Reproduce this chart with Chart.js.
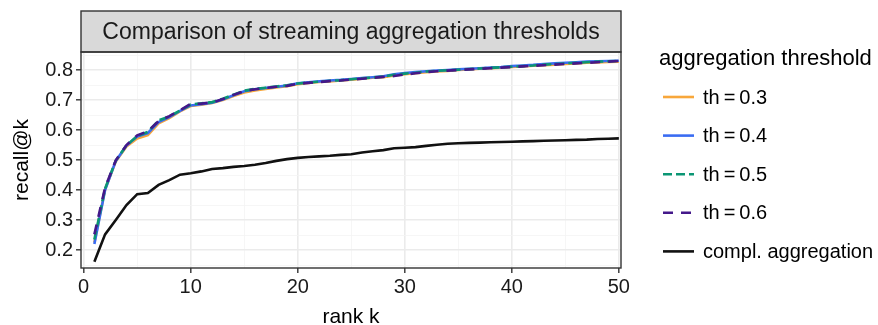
<!DOCTYPE html>
<html>
<head>
<meta charset="utf-8">
<script src="https://cdn.jsdelivr.net/npm/chart.js@4.4.1/dist/chart.umd.min.js"></script>
<style>
  html, body { margin: 0; padding: 0; background: #fff; }
  #wrap { width: 878px; height: 325px; position: relative; }
</style>
</head>
<body>
<div id="wrap"><canvas id="chart" width="878" height="325"></canvas></div>
<script>
// ---------------------------- data ----------------------------
const chartTitle = 'Comparison of streaming aggregation thresholds';
const legendTitle = 'aggregation threshold';
const ranks = Array.from({ length: 50 }, (_, i) => i + 1);

const th03 = [0.225, 0.402, 0.495, 0.545, 0.572, 0.583, 0.622, 0.640, 0.662, 0.680, 0.684, 0.690, 0.700, 0.713, 0.725, 0.732, 0.737, 0.742,
  0.746, 0.753, 0.757, 0.760, 0.762, 0.765, 0.768, 0.771, 0.774, 0.776, 0.782, 0.786, 0.789, 0.793, 0.795, 0.797, 0.800, 0.802, 0.804, 0.806,
  0.808, 0.810, 0.812, 0.814, 0.816, 0.818, 0.820, 0.822, 0.824, 0.825, 0.827, 0.828];
const th04 = [0.220, 0.400, 0.497, 0.548, 0.578, 0.590, 0.626, 0.643, 0.664, 0.682, 0.686, 0.691, 0.702, 0.716, 0.729, 0.736, 0.740, 0.744,
  0.748, 0.756, 0.759, 0.762, 0.765, 0.767, 0.770, 0.773, 0.776, 0.779, 0.786, 0.790, 0.793, 0.796, 0.798, 0.800, 0.802, 0.804, 0.806, 0.808,
  0.810, 0.813, 0.815, 0.817, 0.820, 0.822, 0.824, 0.826, 0.828, 0.829, 0.830, 0.831];
const th05 = [0.235, 0.405, 0.498, 0.549, 0.580, 0.594, 0.632, 0.645, 0.665, 0.685, 0.689, 0.693, 0.704, 0.718, 0.731, 0.737, 0.741, 0.745,
  0.749, 0.755, 0.758, 0.761, 0.764, 0.766, 0.769, 0.772, 0.775, 0.778, 0.784, 0.788, 0.791, 0.795, 0.797, 0.799, 0.801, 0.803, 0.805, 0.807,
  0.809, 0.811, 0.813, 0.815, 0.818, 0.820, 0.822, 0.824, 0.826, 0.828, 0.829, 0.830];
const th06 = [0.252, 0.408, 0.499, 0.550, 0.582, 0.596, 0.630, 0.646, 0.666, 0.687, 0.688, 0.692, 0.703, 0.717, 0.730, 0.736, 0.740, 0.744,
  0.747, 0.754, 0.757, 0.760, 0.763, 0.765, 0.768, 0.771, 0.774, 0.777, 0.780, 0.785, 0.789, 0.793, 0.796, 0.798, 0.800, 0.802, 0.804, 0.806,
  0.808, 0.810, 0.812, 0.814, 0.816, 0.818, 0.820, 0.822, 0.824, 0.826, 0.828, 0.830];
const complAgg = [0.161, 0.252, 0.300, 0.350, 0.386, 0.390, 0.417, 0.433, 0.451, 0.456, 0.462, 0.470, 0.473, 0.477, 0.480, 0.484, 0.490, 0.497,
  0.503, 0.507, 0.510, 0.512, 0.514, 0.517, 0.519, 0.525, 0.529, 0.533, 0.539, 0.541, 0.543, 0.547, 0.551, 0.554, 0.556, 0.557, 0.558, 0.559,
  0.560, 0.561, 0.562, 0.563, 0.564, 0.565, 0.566, 0.567, 0.568, 0.570, 0.571, 0.572];

const xTicks = [0, 5, 10, 15, 20, 25, 30, 35, 40, 45, 50];
const xLabels = [0, 10, 20, 30, 40, 50];
const yTicks = [0.15, 0.2, 0.25, 0.3, 0.35, 0.4, 0.45, 0.5, 0.55, 0.6, 0.65, 0.7, 0.75, 0.8, 0.85];
const yLabels = [0.2, 0.3, 0.4, 0.5, 0.6, 0.7, 0.8];

// ---------------------------- helpers ----------------------------
const FONT = '"Liberation Sans", Arial, Helvetica, sans-serif';
const isLabel = (list, v) => list.some(l => Math.abs(l - v) < 1e-6);
const toPoints = arr => arr.map((y, i) => ({ x: ranks[i], y: y }));

function makeSet(label, values, color, dash, order) {
    return {
        label: label,
        data: toPoints(values),
        borderColor: color,
        borderWidth: 2.6,
        borderDash: dash,
        pointRadius: 0,
        tension: 0,
        fill: false,
        order: order
    };
}

// strip title, panel border and ggplot-like legend
const decorations = {
    id: 'decorations',
    afterDraw(chart) {
        const ctx = chart.ctx;
        const a = chart.chartArea;
        ctx.save();

        // strip
        ctx.fillStyle = '#d9d9d9';
        ctx.fillRect(a.left, 11, a.right - a.left, a.top - 11);
        ctx.strokeStyle = '#333';
        ctx.lineWidth = 1.4;
        ctx.strokeRect(a.left, 11, a.right - a.left, a.top - 11);
        ctx.fillStyle = '#1a1a1a';
        ctx.font = '23px ' + FONT;
        ctx.textAlign = 'center';
        ctx.textBaseline = 'middle';
        ctx.fillText(chartTitle, (a.left + a.right) / 2, (11 + a.top) / 2 + 1);

        // panel border
        ctx.strokeRect(a.left, a.top, a.right - a.left, a.bottom - a.top);

        // legend
        ctx.textAlign = 'left';
        ctx.fillStyle = '#000';
        ctx.font = '22px ' + FONT;
        ctx.fillText(legendTitle, 659, 59);
        ctx.font = '20px ' + FONT;
        chart.data.datasets.forEach((ds, i) => {
            const y = 97 + i * 38.6;
            ctx.strokeStyle = ds.borderColor;
            ctx.lineWidth = 2.6;
            ctx.setLineDash(ds.borderDash || []);
            ctx.beginPath();
            ctx.moveTo(663, y);
            ctx.lineTo(694, y);
            ctx.stroke();
            ctx.setLineDash([]);
            ctx.fillStyle = '#000';
            ctx.fillText(ds.label, 703, y + 1);
        });
        ctx.restore();
    }
};

// ---------------------------- chart ----------------------------
new Chart(document.getElementById('chart'), {
    type: 'line',
    data: {
        datasets: [
            makeSet('th\u2009=\u20090.3', th03, '#f8a73b', [], 5),
            makeSet('th\u2009=\u20090.4', th04, '#3a6cf2', [], 4),
            makeSet('th\u2009=\u20090.5', th05, '#0b9674', [9, 4], 3),
            makeSet('th\u2009=\u20090.6', th06, '#44188a', [10, 8], 2),
            makeSet('compl. aggregation', complAgg, '#111111', [], 1)
        ]
    },
    options: {
        responsive: false,
        animation: false,
        layout: { padding: { left: 0, top: 52, right: 257, bottom: 0 } },
        plugins: {
            legend: { display: false },
            tooltip: { enabled: false }
        },
        scales: {
            x: {
                type: 'linear',
                min: -0.25,
                max: 50.2,
                afterBuildTicks: s => { s.ticks = xTicks.map(v => ({ value: v })); },
                afterFit: s => { s.height = 57; },
                border: { display: false },
                grid: {
                    color: c => isLabel(xLabels, c.tick.value) ? '#ebebeb' : '#f4f4f4',
                    lineWidth: c => isLabel(xLabels, c.tick.value) ? 1.6 : 0.8,
                    tickColor: c => isLabel(xLabels, c.tick.value) ? '#333' : 'rgba(0,0,0,0)',
                    tickLength: 5,
                    tickWidth: 1.4
                },
                ticks: {
                    autoSkip: false,
                    maxRotation: 0,
                    color: '#1a1a1a',
                    font: { family: FONT, size: 20 },
                    padding: 2,
                    callback: v => isLabel(xLabels, v) ? String(v) : ''
                },
                title: {
                    display: true,
                    text: 'rank k',
                    color: '#000',
                    font: { family: FONT, size: 21, lineHeight: 0.7 },
                    padding: { top: 0, bottom: 0 }
                }
            },
            y: {
                type: 'linear',
                min: 0.14,
                max: 0.86,
                afterBuildTicks: s => { s.ticks = yTicks.map(v => ({ value: v })); },
                afterFit: s => { s.width = 81; },
                border: { display: false },
                grid: {
                    color: c => isLabel(yLabels, c.tick.value) ? '#ebebeb' : '#f4f4f4',
                    lineWidth: c => isLabel(yLabels, c.tick.value) ? 1.6 : 0.8,
                    tickColor: c => isLabel(yLabels, c.tick.value) ? '#333' : 'rgba(0,0,0,0)',
                    tickLength: 5,
                    tickWidth: 1.4
                },
                ticks: {
                    autoSkip: false,
                    color: '#1a1a1a',
                    font: { family: FONT, size: 20 },
                    padding: 3,
                    callback: v => isLabel(yLabels, v) ? v.toFixed(1) : ''
                },
                title: {
                    display: true,
                    text: 'recall@k',
                    color: '#000',
                    font: { family: FONT, size: 21 },
                    padding: { top: 10, bottom: 0 }
                }
            }
        }
    },
    plugins: [decorations]
});
</script>
</body>
</html>
